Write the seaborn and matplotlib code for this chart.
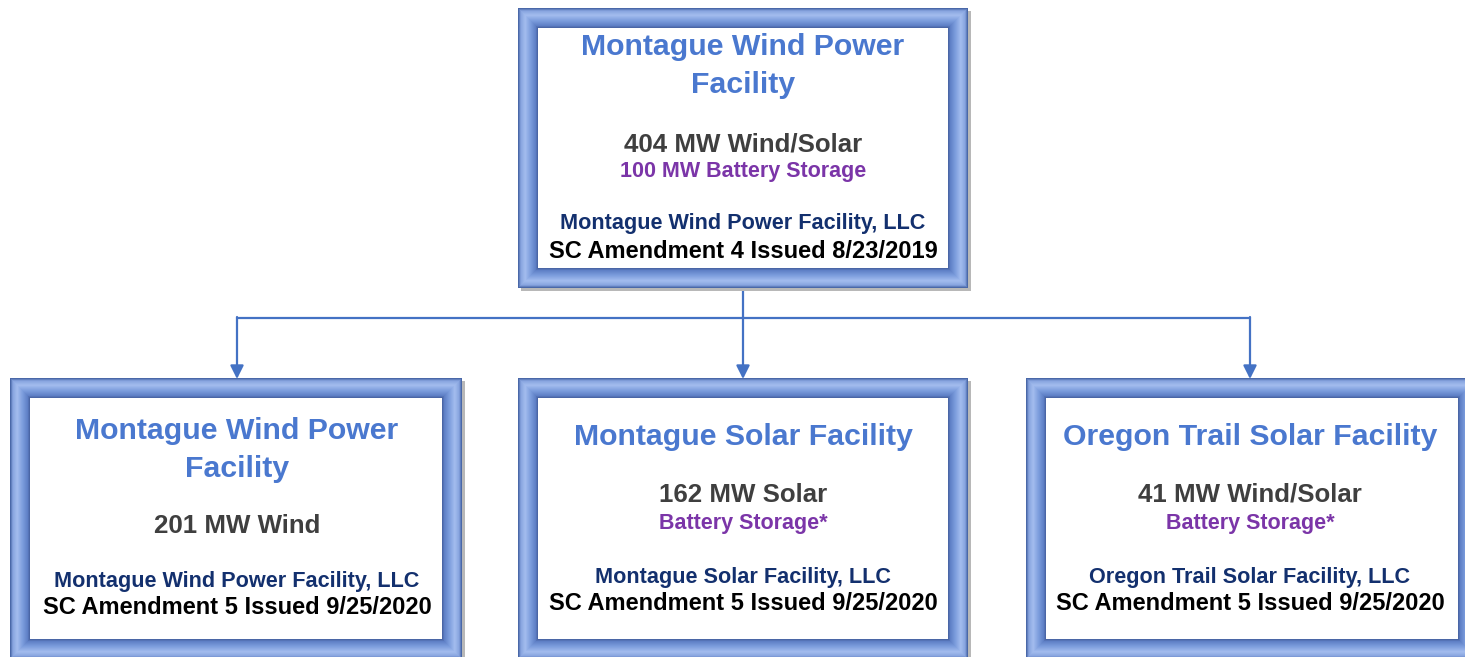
import numpy as np
import matplotlib.pyplot as plt
import matplotlib.colors as mcolors
from matplotlib.patches import Rectangle
import seaborn as sns

# Chart content
titles = ["Montague Wind Power\nFacility", "Montague Wind Power\nFacility",
          "Montague Solar Facility", "Oregon Trail Solar Facility"]
capacities = ["404 MW Wind/Solar", "201 MW Wind", "162 MW Solar", "41 MW Wind/Solar"]
storage = ["100 MW Battery Storage", "", "Battery Storage*", "Battery Storage*"]
companies = ["Montague Wind Power Facility, LLC", "Montague Wind Power Facility, LLC",
             "Montague Solar Facility, LLC", "Oregon Trail Solar Facility, LLC"]
amendments = ["SC Amendment 4 Issued 8/23/2019", "SC Amendment 5 Issued 9/25/2020",
              "SC Amendment 5 Issued 9/25/2020", "SC Amendment 5 Issued 9/25/2020"]

sns.set_theme(style="white")
plt.rcParams['font.family'] = ['Liberation Sans', 'DejaVu Sans']

W, H = 1465, 657
fig = plt.figure(figsize=(W / 100, H / 100), dpi=100)
ax = fig.add_axes([0, 0, 1, 1])
ax.set_xlim(0, W)
ax.set_ylim(H, 0)
ax.axis('off')

# box layout (pixels): x0, y0, x1, y1
boxes = [(518, 8, 968, 288), (10, 378, 462, 659), (518, 378, 968, 659), (1026, 378, 1478, 659)]
centers = [743, 237, 743, 1250]

# layout of text rows per box: title, capacity, storage, company, amendment
rows = [(66, 144, 172, 224, 252),
        (450, 526, None, 582, 608),
        (437, 495, 524, 578, 604),
        (437, 495, 524, 578, 604)]

prof_t = [0.0, 0.12, 0.35, 0.65, 0.9, 1.0]
prof_c = ["#4a68a8", "#86a3de", "#a3bcee", "#7b9cdc", "#5f80c6", "#4a66a6"]
cmap = mcolors.LinearSegmentedColormap.from_list("bevel", list(zip(prof_t, prof_c)))
band = 20


def draw_frame(x0, y0, x1, y1):
    # soft shadow
    ax.add_patch(Rectangle((x0 + 3, y0 + 3), x1 - x0, y1 - y0, facecolor="#b8b8b8",
                           edgecolor="none", zorder=1))
    for i in range(band):
        ax.add_patch(Rectangle((x0 + i, y0 + i), (x1 - x0) - 2 * i, (y1 - y0) - 2 * i,
                               facecolor=cmap(i / (band - 1)), edgecolor="none", zorder=2))
    ax.add_patch(Rectangle((x0 + band, y0 + band), (x1 - x0) - 2 * band, (y1 - y0) - 2 * band,
                           facecolor="white", edgecolor="none", zorder=3))


for b in boxes:
    draw_frame(*b)

# connectors
line_c = "#4472c4"
ax.plot([743, 743], [288, 318], color=line_c, lw=1.6, zorder=0)
ax.plot([centers[1], centers[3]], [318, 318], color=line_c, lw=1.6, zorder=0)
for cx in centers[1:]:
    ax.annotate("", xy=(cx, 379), xytext=(cx, 317),
                arrowprops=dict(arrowstyle="-|>", color=line_c, lw=1.6,
                                mutation_scale=20, shrinkA=0, shrinkB=0), zorder=0)

for i in range(4):
    cx = centers[i]
    ty, cy, sy, coy, ay = rows[i]
    ax.text(cx, ty, titles[i], ha="center", va="center", fontsize=21.8, fontweight="bold",
            color="#4a78cf", linespacing=1.45, zorder=5)
    ax.text(cx, cy, capacities[i], ha="center", va="center", fontsize=18.6,
            fontweight="bold", color="#3f3f3f", zorder=5)
    if sy is not None:
        ax.text(cx, sy, storage[i], ha="center", va="center", fontsize=15.5,
                fontweight="bold", color="#7b35a8", zorder=5)
    ax.text(cx, coy, companies[i], ha="center", va="center", fontsize=15.6,
            fontweight="bold", color="#13306e", zorder=5)
    ax.text(cx, ay, amendments[i], ha="center", va="center", fontsize=17,
            fontweight="bold", color="black", zorder=5)

fig.savefig("out.png", dpi=100)
